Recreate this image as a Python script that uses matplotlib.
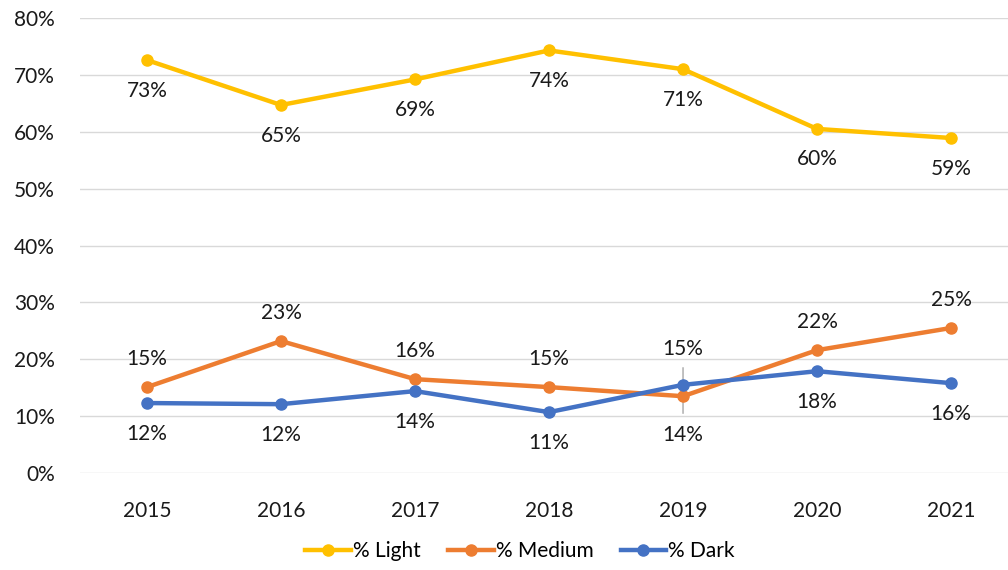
import matplotlib
matplotlib.use("Agg")
import matplotlib.pyplot as plt

plt.rcParams['font.family'] = ['Lato', 'DejaVu Sans']

years = ["2015", "2016", "2017", "2018", "2019", "2020", "2021"]
light = [72.6, 64.7, 69.2, 74.3, 71.0, 60.5, 58.9]
medium = [15.1, 23.2, 16.5, 15.1, 13.5, 21.6, 25.5]
dark = [12.3, 12.1, 14.4, 10.7, 15.5, 17.9, 15.8]
light_lbl = ["73%", "65%", "69%", "74%", "71%", "60%", "59%"]
medium_lbl = ["15%", "23%", "16%", "15%", "14%", "22%", "25%"]
dark_lbl = ["12%", "12%", "14%", "11%", "15%", "18%", "16%"]
medium_pos = ["above", "above", "above", "above", "below", "above", "above"]
dark_pos = ["below", "below", "below", "below", "above", "below", "below"]
yticks = [0, 10, 20, 30, 40, 50, 60, 70, 80]

c_light = "#FFC000"
c_med = "#ED7D31"
c_dark = "#4472C4"

fig = plt.figure(figsize=(10.08, 5.70), dpi=100)
ax = fig.add_axes([80/1008, 1-473/570, 928/1008, (473-18)/570])

x = list(range(len(years)))
ax.plot(x, light, color=c_light, lw=3.2, marker='o', ms=8, label="% Light", zorder=3)
ax.plot(x, medium, color=c_med, lw=3.2, marker='o', ms=8, label="% Medium", zorder=3)
ax.plot(x, dark, color=c_dark, lw=3.2, marker='o', ms=8, label="% Dark", zorder=4)

fs = 15
tc = '#1a1a1a'
for i in x:
    ax.annotate(light_lbl[i], (i, light[i]), xytext=(0, -22), textcoords='offset points',
                ha='center', va='center', fontsize=fs, color=tc)
    off = 20 if medium_pos[i] == "above" else -28
    ax.annotate(medium_lbl[i], (i, medium[i]), xytext=(0, off), textcoords='offset points',
                ha='center', va='center', fontsize=fs, color=tc)
    off = -22 if dark_pos[i] == "below" else 26
    ax.annotate(dark_lbl[i], (i, dark[i]), xytext=(0, off), textcoords='offset points',
                ha='center', va='center', fontsize=fs, color=tc)

# leader line at 2019
i19 = years.index("2019")
ax.annotate("", (i19, medium[i19] - 3.5), xytext=(i19, dark[i19] + 3.5), textcoords='data',
            arrowprops=dict(arrowstyle='-', color='#A6A6A6', lw=1), zorder=2)

ax.set_ylim(0, 80)
ax.set_xlim(-0.5, 6.425)
ax.set_yticks(yticks)
ax.set_yticklabels([f"{v}%" for v in yticks])
ax.set_xticks(x)
ax.set_xticklabels(years)
ax.grid(axis='y', color='#D9D9D9', lw=1)
ax.set_axisbelow(True)
for s in ax.spines.values():
    s.set_visible(False)
ax.tick_params(length=0, labelsize=fs, colors=tc)
ax.tick_params(axis='y', pad=18)
ax.tick_params(axis='x', pad=20)

leg = fig.legend(loc='center', bbox_to_anchor=(520/1008, 1-551/570), ncol=3, frameon=False,
                 fontsize=fs, handlelength=2.2, columnspacing=1.3, handletextpad=0.1)

fig.savefig("out.png", dpi=100)
